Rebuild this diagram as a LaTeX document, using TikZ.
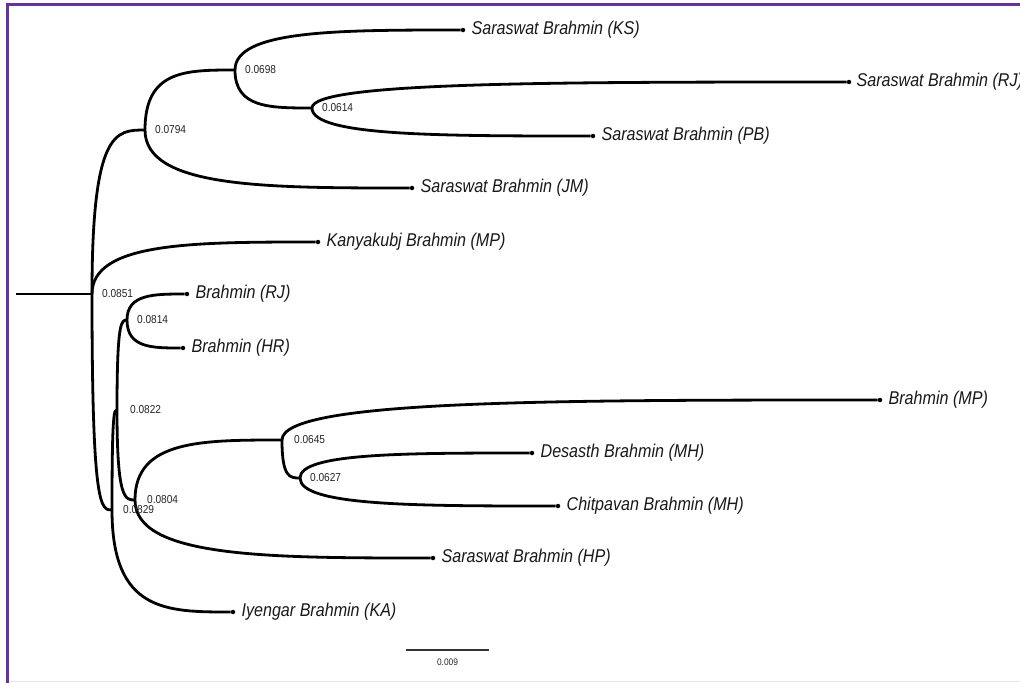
\documentclass[tikz,border=0pt]{standalone}
\usepackage{fontspec}
\setmainfont{Liberation Sans}
\usetikzlibrary{positioning,calc}
\definecolor{framepurple}{RGB}{102,51,153}
\definecolor{framelight}{RGB}{232,226,242}
\tikzset{
  branch/.style={line width=2.8pt, to path={.. controls (\tikztostart |- \tikztotarget) and ($(\tikztostart |- \tikztotarget)!0.45!(\tikztotarget)$) .. (\tikztotarget)}},
  tip/.style={circle, fill, minimum size=4.5pt, inner sep=0pt},
  taxon/.style={inner sep=0pt, xscale=0.87, font=\itshape\fontsize{18.5}{20}\selectfont, text=black!90},
  support/.style={inner sep=0pt, xscale=0.88, font=\fontsize{11.5}{12}\selectfont, text=black!85},
}

\begin{document}
\begin{tikzpicture}[x=1pt,y=-1pt]
\useasboundingbox (0,0) rectangle (1020,683);
\fill[white] (0,0) rectangle (1020,683);
\draw[framepurple, line width=3pt] (7,683) -- (7,4) -- (1020,4);
\draw[framelight, line width=1.5pt] (8.5,681.5) -- (1020,681.5);

% inner nodes
\coordinate (stem) at (16,294);
\coordinate (n0851) at (92,294);
\coordinate (n0794) at (145,130);
\coordinate (n0698) at (235,70);
\coordinate (n0614) at (312,108);
\coordinate (n0829) at (112,510);
\coordinate (n0822) at (117,410);
\coordinate (n0814) at (127,320);
\coordinate (n0804) at (135,500);
\coordinate (n0645) at (282,440);
\coordinate (n0627) at (300,478);

% tips
\node[tip] (tKS) at (463,30) {};
\node[tip] (tRJs) at (849,82) {};
\node[tip] (tPB) at (593,136) {};
\node[tip] (tJM) at (412,188) {};
\node[tip] (tKB) at (318,242) {};
\node[tip] (tRJ) at (187,294) {};
\node[tip] (tHR) at (183,348) {};
\node[tip] (tMP) at (880,400) {};
\node[tip] (tDB) at (532,453) {};
\node[tip] (tCB) at (558,506) {};
\node[tip] (tHP) at (433,558) {};
\node[tip] (tKA) at (233,612) {};

\draw[branch] (stem) -- (n0851);
\draw[branch] (n0851) to (n0794);
\draw[branch] (n0851) to (tKB);
\draw[branch] (n0851) to (n0829);
\draw[branch] (n0794) to (n0698);
\draw[branch] (n0794) to (tJM);
\draw[branch] (n0698) to (tKS);
\draw[branch] (n0698) to (n0614);
\draw[branch] (n0614) to (tRJs);
\draw[branch] (n0614) to (tPB);
\draw[branch] (n0829) to (n0822);
\draw[branch] (n0829) to (tKA);
\draw[branch] (n0822) to (n0814);
\draw[branch] (n0822) to (n0804);
\draw[branch] (n0814) to (tRJ);
\draw[branch] (n0814) to (tHR);
\draw[branch] (n0804) to (n0645);
\draw[branch] (n0804) to (tHP);
\draw[branch] (n0645) to (tMP);
\draw[branch] (n0645) to (n0627);
\draw[branch] (n0627) to (tDB);
\draw[branch] (n0627) to (tCB);

\node[support, right=10pt of n0851] (s0851) {0.0851};
\node[support, right=10pt of n0794] (s0794) {0.0794};
\node[support, right=10pt of n0698] (s0698) {0.0698};
\node[support, right=10pt of n0614] (s0614) {0.0614};
\node[support, right=11pt of n0829] (s0829) {0.0829};
\node[support, right=13pt of n0822] (s0822) {0.0822};
\node[support, right=10pt of n0814] (s0814) {0.0814};
\node[support, right=12pt of n0804] (s0804) {0.0804};
\node[support, right=12pt of n0645] (s0645) {0.0645};
\node[support, right=10pt of n0627] (s0627) {0.0627};

\node[taxon, right=6pt of tKS] (lKS) {Saraswat Brahmin (KS)};
\node[taxon, right=5pt of tRJs] (lRJs) {Saraswat Brahmin (RJ)};
\node[taxon, right=6pt of tPB] (lPB) {Saraswat Brahmin (PB)};
\node[taxon, right=6pt of tJM] (lJM) {Saraswat Brahmin (JM)};
\node[taxon, right=6pt of tKB] (lKB) {Kanyakubj Brahmin (MP)};
\node[taxon, right=6pt of tRJ] (lRJ) {Brahmin (RJ)};
\node[taxon, right=6pt of tHR] (lHR) {Brahmin (HR)};
\node[taxon, right=6pt of tMP] (lMP) {Brahmin (MP)};
\node[taxon, right=6pt of tDB] (lDB) {Desasth Brahmin (MH)};
\node[taxon, right=6pt of tCB] (lCB) {Chitpavan Brahmin (MH)};
\node[taxon, right=6pt of tHP] (lHP) {Saraswat Brahmin (HP)};
\node[taxon, right=6pt of tKA] (lKA) {Iyengar Brahmin (KA)};

% scale bar
\coordinate (sbL) at (406,650);
\coordinate (sbR) at (489,650);
\draw[line width=1.2pt, black!80] (sbL) -- (sbR) node[support, midway, below=8pt, font=\fontsize{9.5}{10}\selectfont] (sbText) {0.009};
\end{tikzpicture}
\end{document}
